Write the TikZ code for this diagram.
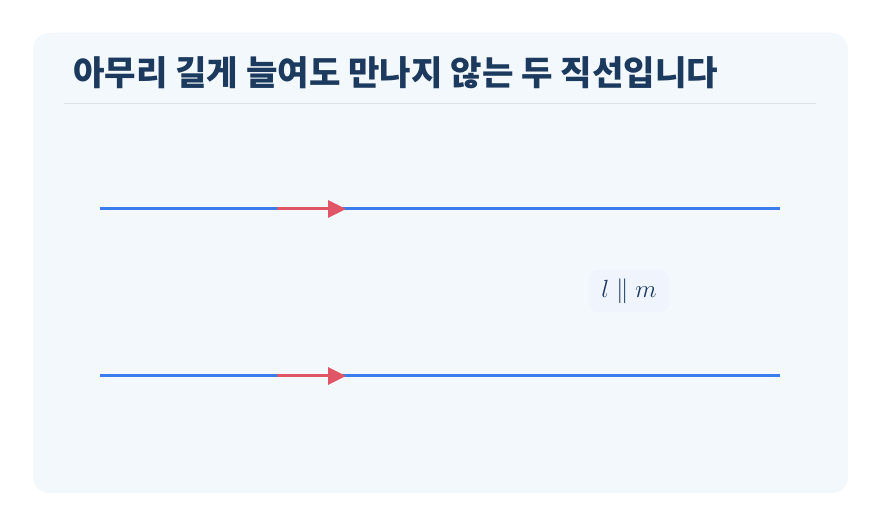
\documentclass[tikz,border=0pt]{standalone}
\usepackage{fontspec}
\usepackage{amsmath, amssymb}
\usetikzlibrary{arrows.meta,positioning,calc}
\newfontfamily\cjk{Noto Sans CJK KR}
\definecolor{panelcolor}{RGB}{243,248,253}
\definecolor{rulecolor}{RGB}{218,226,234}
\definecolor{titlecolor}{RGB}{27,58,94}
\definecolor{linecolor}{RGB}{59,125,237}
\definecolor{arrowcolor}{RGB}{224,86,102}
\definecolor{tagcolor}{RGB}{240,245,253}

\begin{document}
\begin{tikzpicture}[x=1pt, y=-1pt]
  % Estilos
  \tikzset{
    panel/.style={fill=panelcolor,draw=none,rounded corners=16pt},
    bigtitle/.style={font=\cjk\bfseries\fontsize{34.2}{38}\selectfont,text=titlecolor,inner sep=0pt},
    rline/.style={draw=linecolor,line width=3pt},
    dirarrow/.style={draw=arrowcolor,line width=3pt,-{Triangle[length=18pt,width=17pt]}},
    tag/.style={fill=tagcolor,rounded corners=9pt,text=titlecolor,
      font=\fontsize{26}{30}\selectfont,minimum width=80pt,minimum height=42pt}
  }
  \useasboundingbox (0,0) rectangle (881,526);

  %================= FONDO =================
  \fill[panel] (33,33) rectangle (848,493);
  \node[bigtitle,anchor=base west] (title) at (73,86) {아무리 길게 늘여도 만나지 않는 두 직선입니다};
  \draw[rulecolor,line width=1pt] (64,104) -- (816,104);

  %================= RECTAS =================
  \coordinate (l-start) at (100,209);
  \coordinate (l-end)   at (780,209);
  \coordinate (m-start) at (100,376);
  \coordinate (m-end)   at (780,376);

  \draw[rline] (l-start) -- (l-end);
  \draw[rline] (m-start) -- (m-end);

  % Flechas de dirección
  \coordinate (l-a) at (277,209);
  \coordinate (l-b) at (346,209);
  \coordinate (m-a) at (277,376);
  \coordinate (m-b) at (346,376);
  \draw[dirarrow] (l-a) -- (l-b);
  \draw[dirarrow] (m-a) -- (m-b);

  %================= ETIQUETA =================
  \node[tag] (par) at (629,291) {$l \parallel m$};

\end{tikzpicture}
\end{document}
